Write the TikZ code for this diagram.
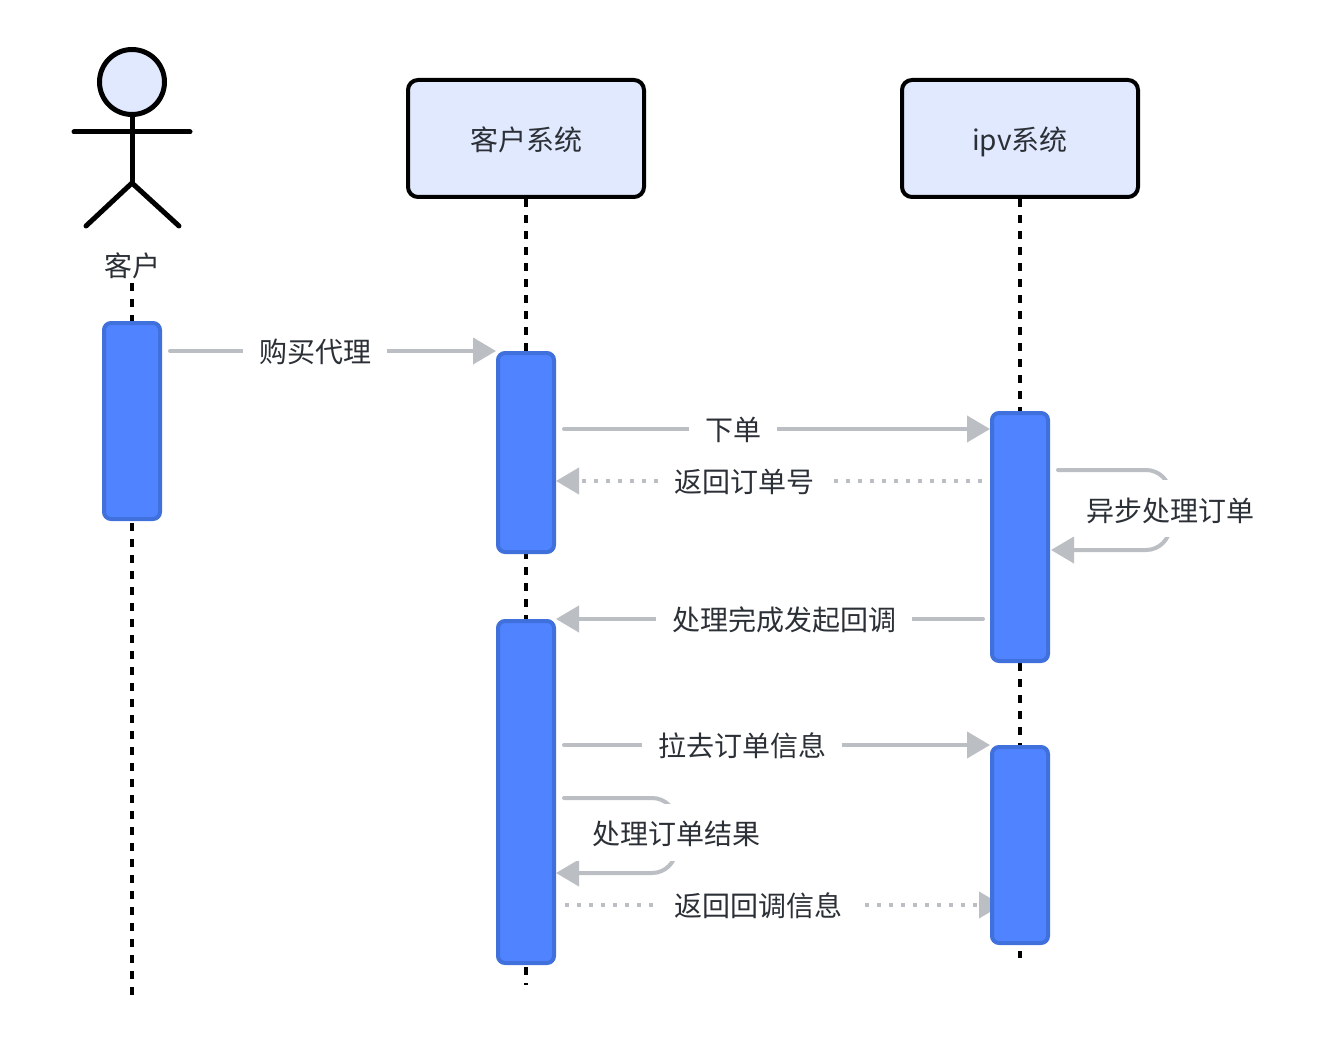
\documentclass[tikz,border=0pt]{standalone}
\usepackage{fontspec}
\setmainfont{Noto Sans CJK SC}
\usetikzlibrary{arrows.meta,backgrounds}
\definecolor{ink}{HTML}{2B2F36}
\definecolor{paleblue}{HTML}{E1E9FE}
\definecolor{barfill}{HTML}{4F83FF}
\definecolor{barline}{HTML}{4070DC}
\definecolor{msggray}{HTML}{BBBEC3}
\tikzset{
  participant/.style={draw=black,line width=4pt,fill=paleblue,rounded corners=10pt,
    minimum width=236pt,minimum height=117pt,inner sep=0pt,text=ink,text height=26pt,text depth=1.8pt,
    font=\fontsize{28pt}{32pt}\selectfont},
  activation/.style={draw=barline,line width=4pt,fill=barfill,rounded corners=7pt,
    minimum width=56pt,inner sep=0pt},
  lifeline/.style={draw=black,line width=4pt,dash pattern=on 8pt off 8pt},
  msglabel/.style={fill=white,text=ink,inner xsep=16pt,inner ysep=0pt,font=\fontsize{28pt}{32pt}\selectfont},
  loopblock/.style={msglabel,minimum height=57pt,text height=27.5pt,text depth=2pt},
  msg/.style={draw=msggray,line width=4pt,line cap=round},
  dots/.style={draw=msggray,line width=4pt,dash pattern=on 4pt off 8pt},
  head/.style={-{Triangle[length=23pt,width=26pt,fill=msggray]}},
  stick/.style={draw=black,line width=5pt,line cap=round}
}
\begin{document}
\begin{tikzpicture}[x=1pt,y=-1pt]
\useasboundingbox (0,0) rectangle (1318,1054);

% actor figure
\node[circle,draw=black,line width=5pt,fill=paleblue,minimum size=65pt,inner sep=0pt] (actorhead) at (132,82) {};
\coordinate (hip) at (132,183);
\coordinate (armL) at (74,132);
\coordinate (armR) at (190,132);
\coordinate (footL) at (86,226);
\coordinate (footR) at (179,226);
\draw[stick] (actorhead.south) -- (hip);
\draw[stick] (armL) -- (armR);
\draw[stick] (footL) -- (hip) -- (footR);
\node[text=ink,font=\fontsize{28pt}{32pt}\selectfont,inner sep=0pt] (actorname) at (132,266) {客户};

% participants
\node[participant] (client) at (526,138.5) {客户系统};
\node[participant] (ipv) at (1020,138.5) {ipv系统};

% activation bars
\node[activation,minimum height=196pt] (barA) at (132,421) {};
\node[activation,minimum height=199pt] (barB1) at (526,452.5) {};
\node[activation,minimum height=342pt] (barB2) at (526,792) {};
\node[activation,minimum height=248pt] (barC1) at (1020,537) {};
\node[activation,minimum height=196pt] (barC2) at (1020,845) {};

% lifeline ends
\coordinate (endA) at (132,997);
\coordinate (endB) at (526,985);
\coordinate (endC) at (1020,958);

% message rows
\coordinate (r1) at (0,351);
\coordinate (r2) at (0,429);
\coordinate (r3) at (0,481);
\coordinate (r4) at (0,619);
\coordinate (r5) at (0,745);
\coordinate (r6) at (0,905);

% message labels
\node[msglabel] (t1) at (315,352) {购买代理};
\node[msglabel] (t2) at (733,430) {下单};
\node[msglabel] (t3) at (744,482) {返回订单号};
\node[msglabel] (t4) at (784,620) {处理完成发起回调};
\node[msglabel] (t5) at (742,746) {拉去订单信息};
\node[msglabel] (t6) at (758,906) {返回回调信息};
\node[loopblock] (t7) at (1170,508.5) {异步处理订单};
\node[loopblock] (t8) at (676,832) {处理订单结果};

% self-call corners
\coordinate (loopCtop) at (1170,470);
\coordinate (loopCbot) at (1170,550);
\coordinate (loopBtop) at (676,798);
\coordinate (loopBbot) at (676,873);

\begin{scope}[on background layer]
  \fill[white] (0,0) rectangle (1318,1054);
  \draw[lifeline] (actorname.south) ++(0,4) -- (endA);
  \draw[lifeline] (client.south) -- (endB);
  \draw[lifeline] (ipv.south) -- (endC);

  \draw[msg,head,shorten <=8pt] (barA.east |- r1) -- (barB1.west |- r1);
  \draw[msg,head,shorten <=8pt] (barB1.east |- r2) -- (barC1.west |- r2);
  \draw[dots,head,shorten <=8pt] (barC1.west |- r3) -- (barB1.east |- r3);
  \draw[msg,head,shorten <=7pt] (barC1.west |- r4) -- (barB2.east |- r4);
  \draw[msg,head,shorten <=8pt] (barB2.east |- r5) -- (barC2.west |- r5);
  \draw[dots,head,shorten <=9pt,shorten >=-12pt] (barB2.east |- r6) -- (barC2.west |- r6);
  \draw[msg,head,rounded corners=24pt,shorten <=8pt,shorten >=1pt]
    (barC1.east |- loopCtop) -- (loopCtop) -- (loopCbot) -- (barC1.east |- loopCbot);
  \draw[msg,head,rounded corners=24pt,shorten <=8pt]
    (barB2.east |- loopBtop) -- (loopBtop) -- (loopBbot) -- (barB2.east |- loopBbot);
\end{scope}
\end{tikzpicture}
\end{document}
